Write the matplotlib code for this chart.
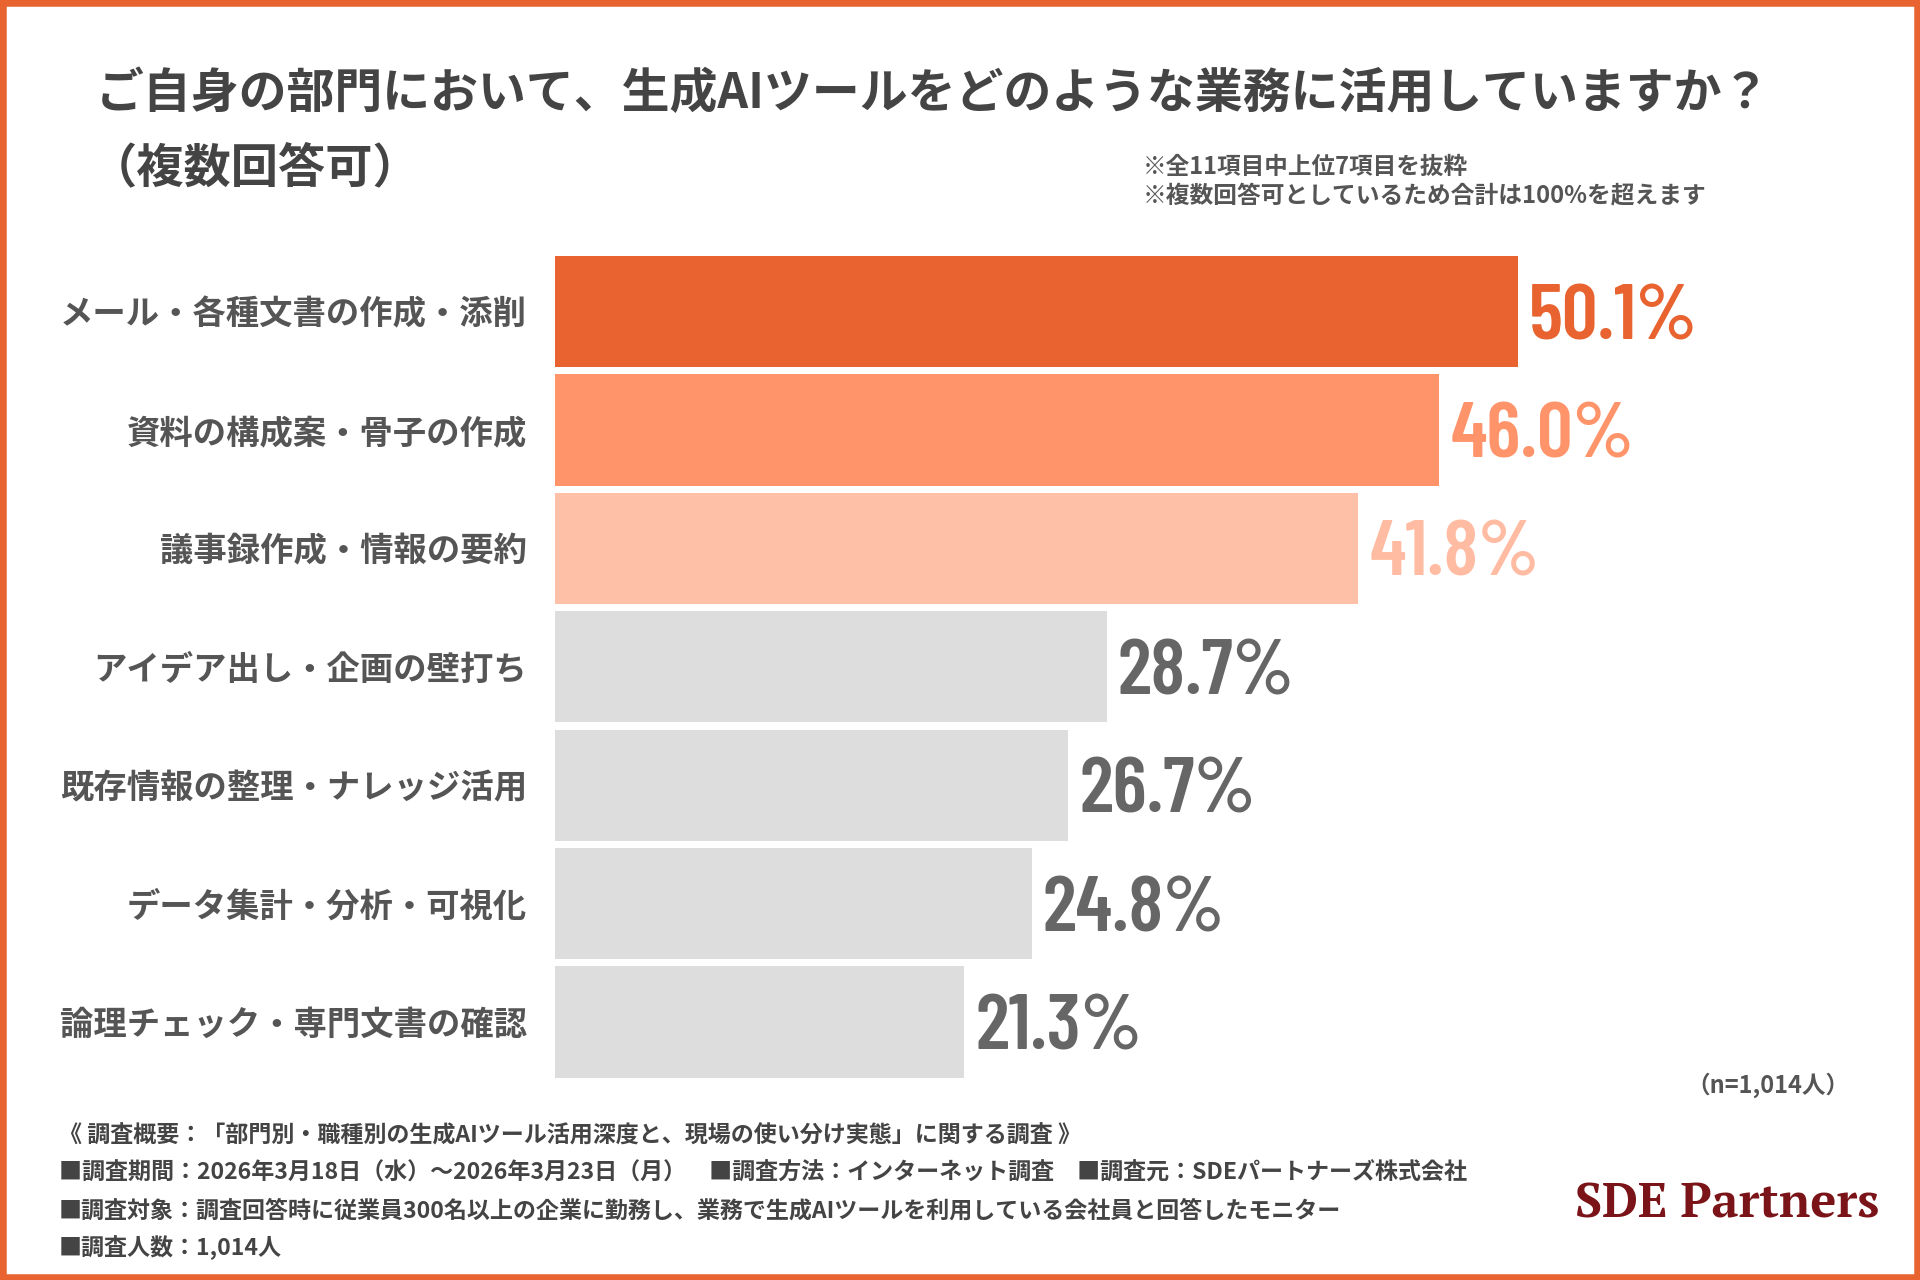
import matplotlib
matplotlib.use("Agg")
import matplotlib.pyplot as plt
from matplotlib import font_manager
from matplotlib.patches import Rectangle

plt.rcParams['font.family'] = ['Noto Sans CJK JP', 'DejaVu Sans']

categories = [
    "メール・各種文書の作成・添削",
    "資料の構成案・骨子の作成",
    "議事録作成・情報の要約",
    "アイデア出し・企画の壁打ち",
    "既存情報の整理・ナレッジ活用",
    "データ集計・分析・可視化",
    "論理チェック・専門文書の確認",
]
values = [50.1, 46.0, 41.8, 28.7, 26.7, 24.8, 21.3]
bar_colors = ["#E8632F", "#FF946A", "#FFC0A8", "#DDDDDD", "#DDDDDD", "#DDDDDD", "#DDDDDD"]
label_colors = ["#E8632F", "#FF946A", "#FFBCA2", "#666666", "#666666", "#666666", "#666666"]

title_line1 = "ご自身の部門において、生成AIツールをどのような業務に活用していますか？"
title_line2 = "（複数回答可）"
notes = ["※全11項目中上位7項目を抜粋", "※複数回答可としているため合計は100%を超えます"]
n_label = "（n=1,014人）"
footer = [
    "《 調査概要：「部門別・職種別の生成AIツール活用深度と、現場の使い分け実態」に関する調査 》",
    "■調査期間：2026年3月18日（水）～2026年3月23日（月）　■調査方法：インターネット調査　■調査元：SDEパートナーズ株式会社",
    "■調査対象：調査回答時に従業員300名以上の企業に勤務し、業務で生成AIツールを利用している会社員と回答したモニター",
    "■調査人数：1,014人",
]
logo = "SDE Partners"

avail = {f.name for f in font_manager.fontManager.ttflist}

def pick(cands, default):
    for c in cands:
        if c in avail:
            return c
    return default

num_family = pick(["Barlow Condensed", "Saira Condensed", "Roboto Condensed", "IBM Plex Sans Condensed"], "DejaVu Sans")
serif_family = pick(["PT Serif", "Liberation Serif"], "DejaVu Serif")

W, H = 1920, 1280
fig = plt.figure(figsize=(19.2, 12.8), dpi=100)
fig.patch.set_facecolor("white")

def fx(px):
    return px / W

def fy(py):
    return 1 - py / H

ax = fig.add_axes([fx(555), fy(1081.2), fx(1300), (1081.2 - 252.3) / H])
ypos = list(range(len(categories)))
ax.barh(ypos, values, height=0.94, color=bar_colors, edgecolor="none")
ax.set_xlim(0, 1300 / 19.22)
ax.set_ylim(6.5, -0.5)
ax.set_yticks(ypos)
ax.set_yticklabels(categories, fontsize=24, fontweight="bold", color="#555555")
ax.tick_params(axis="y", length=0, pad=20)
ax.set_xticks([])
for s in ax.spines.values():
    s.set_visible(False)
ax.patch.set_alpha(0)

for y, v, c in zip(ypos, values, label_colors):
    ax.annotate(f"{v:.1f}%", xy=(v, y), xytext=(8, 0), textcoords="offset points",
                ha="left", va="center_baseline", fontsize=57, fontweight=600, color=c,
                family=[num_family, "DejaVu Sans"])

text_color = "#444444"
fig.text(fx(96), fy(94), title_line1, fontsize=34.5, fontweight="bold", color=text_color, va="center", ha="left")
fig.text(fx(90), fy(168), title_line2, fontsize=34, fontweight="bold", color=text_color, va="center", ha="left")
fig.text(fx(1143), fy(167), notes[0], fontsize=17, fontweight="bold", color="#555555", va="center", ha="left")
fig.text(fx(1143), fy(196), notes[1], fontsize=17.1, fontweight="bold", color="#555555", va="center", ha="left")
fig.text(fx(1849), fy(1085), n_label, fontsize=17, fontweight="bold", color="#555555", va="center", ha="right")

for i, line in enumerate(footer):
    fig.text(fx(59), fy(1136 + i * 37.3), line, fontsize=16.6, fontweight="bold", color=text_color,
             va="center", ha="left")

fig.text(fx(1727), fy(1204), logo, fontsize=35, fontweight="bold", color="#7A1418",
         va="center", ha="center", family=[serif_family, "DejaVu Serif"])

fig.patches.append(Rectangle((0, 0), 1, 1, transform=fig.transFigure, fill=False,
                             edgecolor="#E8632F", linewidth=9, zorder=10))

fig.savefig("out.png", dpi=100, facecolor="white")
